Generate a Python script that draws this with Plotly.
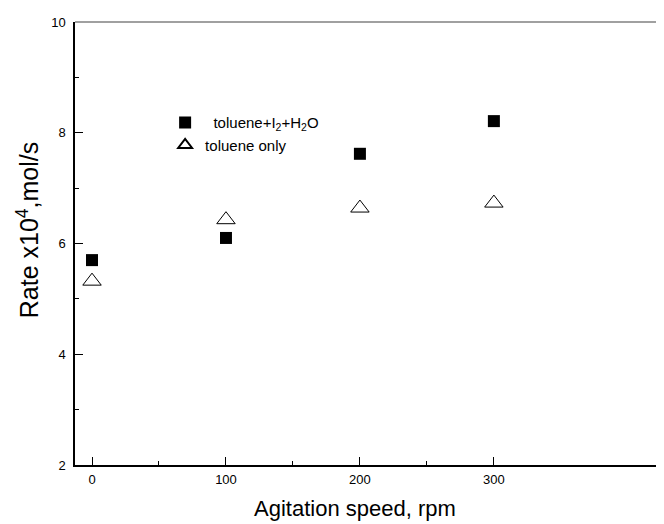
import plotly.graph_objects as go

speed = [0, 100, 200, 300]
rate_mix = [5.70, 6.10, 7.62, 8.21]
rate_tol = [5.32, 6.43, 6.64, 6.73]
x_ticks = [0, 100, 200, 300]
y_ticks = [2, 4, 6, 8, 10]

fig = go.Figure()
fig.add_trace(go.Scatter(
    x=speed, y=rate_mix, mode="markers",
    name="  toluene+I<sub>2</sub>+H<sub>2</sub>O",
    marker=dict(symbol="square", size=12, color="black"),
))
fig.add_trace(go.Scatter(
    x=speed, y=rate_tol, mode="markers",
    name="toluene only",
    marker=dict(symbol="triangle-up-open", size=16, color="black", line=dict(width=1)),
))

# page body has an 8px margin, so the figure is 8px smaller and margins shifted
fig.update_layout(
    width=656, height=516,
    margin=dict(l=67, r=0, t=14, b=59, autoexpand=False),
    paper_bgcolor="white", plot_bgcolor="white",
    font=dict(family="Liberation Sans, Arial", color="black"),
    legend=dict(x=0.153, y=0.81, xanchor="left", yanchor="top",
                bgcolor="rgba(0,0,0,0)", font=dict(size=15),
                tracegroupgap=0, itemsizing="constant"),
    shapes=[dict(type="line", xref="paper", yref="paper", x0=0, x1=1, y0=1, y1=1,
                 line=dict(color="#808080", width=1.5))],
    annotations=[
        dict(text="Rate x10<sup>4</sup>,mol/s", xref="paper", yref="paper",
             x=0, y=0.53, xanchor="center", yanchor="middle", xshift=-47,
             textangle=-90, showarrow=False, font=dict(size=25)),
        dict(text="Agitation speed, rpm", xref="paper", yref="paper",
             x=0.475, y=0, xanchor="center", yanchor="middle", yshift=-43,
             showarrow=False, font=dict(size=22)),
    ],
)
fig.update_xaxes(
    range=[-12.7, 427], tickvals=x_ticks, showgrid=False, zeroline=False,
    showline=True, linecolor="black", linewidth=1.5,
    ticks="inside", ticklen=8, tickcolor="black", tickwidth=1,
    tickfont=dict(size=13), automargin=False, ticklabelstandoff=2,
    minor=dict(tickvals=[50, 150, 250], ticks="inside", ticklen=4, tickcolor="black"),
)
fig.update_yaxes(
    range=[2, 10], tickvals=y_ticks, showgrid=False, zeroline=False,
    showline=True, linecolor="black", linewidth=1.5,
    ticks="inside", ticklen=8, tickcolor="black", tickwidth=1,
    tickfont=dict(size=13), automargin=False, ticklabelstandoff=5,
    minor=dict(tickvals=[3, 5, 7, 9], ticks="inside", ticklen=4, tickcolor="black"),
)

fig.write_html("out.html")
